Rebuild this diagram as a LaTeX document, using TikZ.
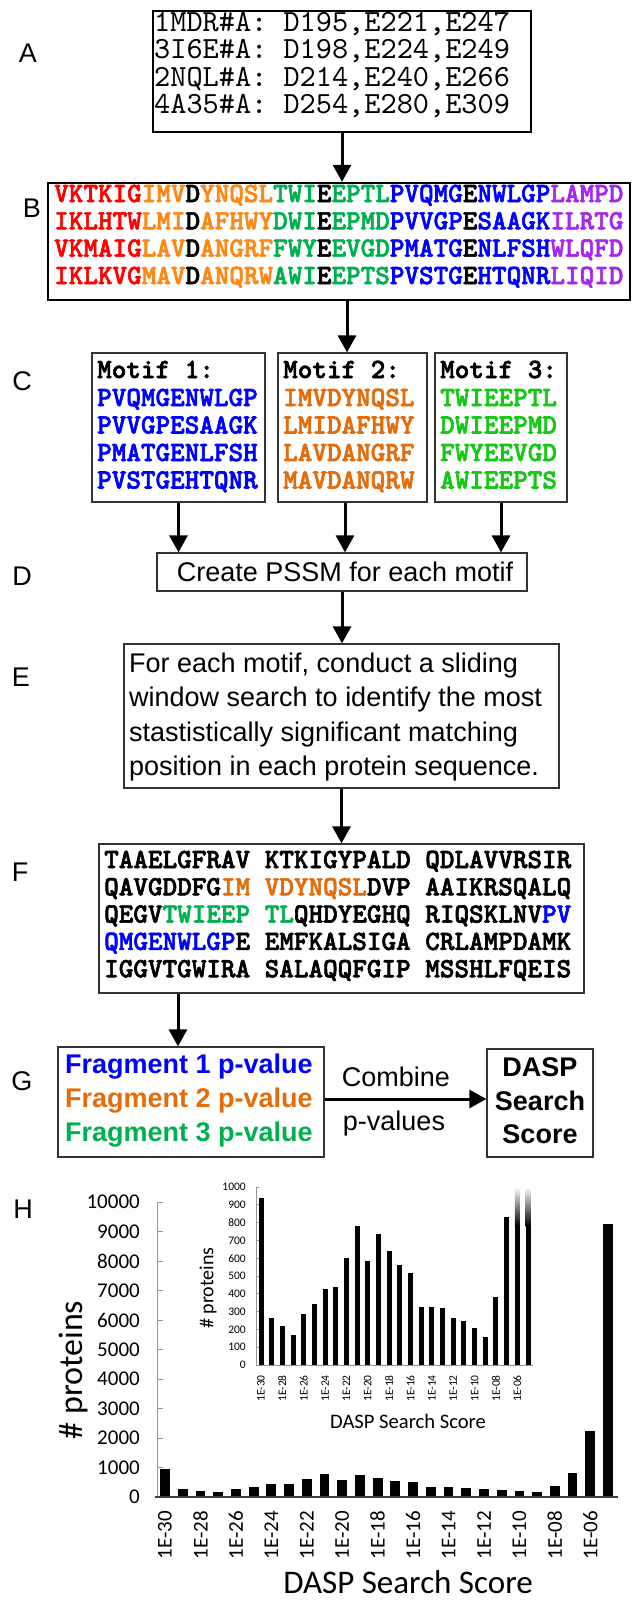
\documentclass[tikz,border=0pt]{standalone}
\usepackage{fontspec}
\setmainfont{Liberation Sans}
\newfontfamily\ctt{lmmono10-regular}[Extension=.otf]
\newfontfamily\cttb{lmmonolt10-bold}[Extension=.otf,FakeBold=2.2]
\newfontfamily\cali{Carlito}
\usetikzlibrary{arrows.meta,calc}

\definecolor{sred}{RGB}{255,0,0}
\definecolor{sorange}{RGB}{255,135,20}
\definecolor{sgreen}{RGB}{0,176,80}
\definecolor{sblue}{RGB}{0,0,255}
\definecolor{spurple}{RGB}{165,40,240}
\definecolor{dorange}{RGB}{228,108,10}
\definecolor{lgreen}{RGB}{20,200,20}
\definecolor{axisgray}{RGB}{150,150,150}

\newcommand\sqred[1]{\textcolor{sred}{#1}}
\newcommand\sqorg[1]{\textcolor{sorange}{#1}}
\newcommand\sqgrn[1]{\textcolor{sgreen}{#1}}
\newcommand\sqblu[1]{\textcolor{sblue}{#1}}
\newcommand\sqpur[1]{\textcolor{spurple}{#1}}
\newcommand\sqdor[1]{\textcolor{dorange}{#1}}

\begin{document}
\begin{tikzpicture}[x=1pt,y=-1pt,
  flowarrow/.style={line width=3pt,-{Triangle[length=17pt,width=18pt]}},
  thickbox/.style={draw=black,line width=2.4pt,inner sep=0pt},
  thinbox/.style={draw=black!80,line width=1.3pt,inner sep=0pt},
  panel/.style={font=\fontsize{27pt}{27pt}\selectfont,inner sep=0pt},
  seqA/.style={font=\ctt\fontsize{30.8pt}{30.8pt}\selectfont,anchor=base west,inner sep=0pt},
  seq/.style={font=\cttb\fontsize{27.8pt}{27.8pt}\selectfont,anchor=base west,inner sep=0pt},
  plain/.style={font=\fontsize{27pt}{27pt}\selectfont,inner sep=0pt},
  bold/.style={font=\bfseries\fontsize{27pt}{27pt}\selectfont,inner sep=0pt},
  tickmain/.style={font=\cali\fontsize{21pt}{21pt}\selectfont,inner sep=0pt},
  tickinset/.style={font=\cali\fontsize{11.5pt}{11.5pt}\selectfont,inner sep=0pt},
  axline/.style={draw=axisgray,line width=1pt}]

\fill[white] (0,0) rectangle (633,1603);
\useasboundingbox (0,0) rectangle (633,1603);

% panel letters
\node[panel] (la) at (28,53) {A};
\node[panel] (lb) at (32,208) {B};
\node[panel] (lc) at (22,381) {C};
\node[panel] (ld) at (22,576) {D};
\node[panel] (le) at (21,677) {E};
\node[panel] (lf) at (20,872) {F};
\node[panel] (lg) at (22,1081) {G};
\node[panel] (lh) at (23,1209) {H};

% A: active-site residues
\node[thickbox,minimum width=378pt,minimum height=121pt] (a) at (342,71.5) {};
\node[seqA] (a1) at (154,31.5) {1MDR\#A: D195,E221,E247};
\node[seqA] (a2) at (154,58.8) {3I6E\#A: D198,E224,E249};
\node[seqA] (a3) at (154,86.1) {2NQL\#A: D214,E240,E266};
\node[seqA] (a4) at (154,113.4) {4A35\#A: D254,E280,E309};

% B: aligned sequence windows
\node[thickbox,minimum width=582pt,minimum height=117pt] (b) at (339,241.5) {};
\node[seq] (b1) at (54,202) {\sqred{VKTKIG}\sqorg{IMV}D\sqorg{YNQSL}\sqgrn{TWI}E\sqgrn{EPTL}\sqblu{PVQMG}E\sqblu{NWLGP}\sqpur{LAMPD}};
\node[seq] (b2) at (54,229.3) {\sqred{IKLHTW}\sqorg{LMI}D\sqorg{AFHWY}\sqgrn{DWI}E\sqgrn{EPMD}\sqblu{PVVGP}E\sqblu{SAAGK}\sqpur{ILRTG}};
\node[seq] (b3) at (54,256.6) {\sqred{VKMAIG}\sqorg{LAV}D\sqorg{ANGRF}\sqgrn{FWY}E\sqgrn{EVGD}\sqblu{PMATG}E\sqblu{NLFSH}\sqpur{WLQFD}};
\node[seq] (b4) at (54,284) {\sqred{IKLKVG}\sqorg{MAV}D\sqorg{ANQRW}\sqgrn{AWI}E\sqgrn{EPTS}\sqblu{PVSTG}E\sqblu{HTQNR}\sqpur{LIQID}};

% C: motifs
\node[thinbox,minimum width=173pt,minimum height=149pt] (c1) at (178.5,427.5) {};
\node[thinbox,minimum width=149pt,minimum height=149pt] (c2) at (352.5,427.5) {};
\node[thinbox,minimum width=132pt,minimum height=149pt] (c3) at (501,427.5) {};
\node[seq] (m1h) at (97,378) {Motif 1:};
\node[seq,text=sblue] (m1a) at (97,406) {PVQMGENWLGP};
\node[seq,text=sblue] (m1b) at (97,433.5) {PVVGPESAAGK};
\node[seq,text=sblue] (m1c) at (97,461) {PMATGENLFSH};
\node[seq,text=sblue] (m1d) at (97,488.5) {PVSTGEHTQNR};
\node[seq] (m2h) at (283,378) {Motif 2:};
\node[seq,text=dorange] (m2a) at (283,406) {IMVDYNQSL};
\node[seq,text=dorange] (m2b) at (283,433.5) {LMIDAFHWY};
\node[seq,text=dorange] (m2c) at (283,461) {LAVDANGRF};
\node[seq,text=dorange] (m2d) at (283,488.5) {MAVDANQRW};
\node[seq] (m3h) at (440,378) {Motif 3:};
\node[seq,text=lgreen] (m3a) at (440,406) {TWIEEPTL};
\node[seq,text=lgreen] (m3b) at (440,433.5) {DWIEEPMD};
\node[seq,text=lgreen] (m3c) at (440,461) {FWYEEVGD};
\node[seq,text=lgreen] (m3d) at (440,488.5) {AWIEEPTS};

% D: PSSM
\node[thinbox,minimum width=370pt,minimum height=38pt] (d) at (342,572) {};
\node[plain,anchor=base] (dt) at (345,581) {Create PSSM for each motif};

% E: sliding window search
\node[thinbox,minimum width=435pt,minimum height=144pt] (e) at (341.5,716) {};
\node[plain,anchor=base west] (e1) at (129,672) {For each motif, conduct a sliding};
\node[plain,anchor=base west] (e2) at (129,706.5) {window search to identify the most};
\node[plain,anchor=base west] (e3) at (129,741) {stastistically significant matching};
\node[plain,anchor=base west] (e4) at (129,775.5) {position in each protein sequence.};

% F: query protein with best-matching windows
\node[thinbox,minimum width=485pt,minimum height=149pt] (f) at (341.5,918.5) {};
\node[seq] (f1) at (104,868) {TAAELGFRAV KTKIGYPALD QDLAVVRSIR};
\node[seq] (f2) at (104,895.3) {QAVGDDFG\sqdor{IM} \sqdor{VDYNQSL}DVP AAIKRSQALQ};
\node[seq] (f3) at (104,922.6) {QEGV\sqgrn{TWIEEP} \sqgrn{TL}QHDYEGHQ RIQSKLNV\sqblu{PV}};
\node[seq] (f4) at (104,949.9) {\sqblu{QMGENWLGP}E EMFKALSIGA CRLAMPDAMK};
\node[seq] (f5) at (104,977.2) {IGGVTGWIRA SALAQQFGIP MSSHLFQEIS};

% G: p-values and combined score
\node[thinbox,minimum width=266pt,minimum height=110pt] (g) at (191,1102) {};
\node[bold,anchor=base west,text=sblue] (g1) at (65,1073.5) {Fragment 1 p-value};
\node[bold,anchor=base west,text=dorange] (g2) at (65,1107.5) {Fragment 2 p-value};
\node[bold,anchor=base west,text=sgreen] (g3) at (65,1141.5) {Fragment 3 p-value};
\node[thinbox,minimum width=106pt,minimum height=108pt] (s) at (540,1103) {};
\node[bold,anchor=base] (s1) at (540,1076) {DASP};
\node[bold,anchor=base] (s2) at (540,1110) {Search};
\node[bold,anchor=base] (s3) at (540,1143.5) {Score};
\node[plain,anchor=base] (cb1) at (396,1086) {Combine};
\node[plain,anchor=base] (cb2) at (394,1130) {p-values};

% flow arrows
\coordinate (bcx) at (347,0);
\coordinate (fgx) at (178,0);
\coordinate (gsy) at (0,1099);
\draw[flowarrow] (a.south) -- (a.south |- b.north);
\draw[flowarrow] (b.south -| bcx) -- (c2.north -| bcx);
\draw[flowarrow] (c1.south) -- (c1.south |- d.north);
\draw[flowarrow] (c2.south -| dt) -- (dt |- d.north);
\draw[flowarrow] (c3.south) -- (c3.south |- d.north);
\draw[flowarrow] (d.south) -- (d.south |- e.north);
\draw[flowarrow] (e.south) -- (e.south |- f.north);
\draw[flowarrow] (f.south -| fgx) -- (g.north -| fgx);
\draw[flowarrow] (g.east |- gsy) -- (s.west |- gsy);

% H: histogram of DASP search scores
\draw[axline] (157,1202) -- (157,1497);
\foreach \k/\t in {0/0,1/1000,2/2000,3/3000,4/4000,5/5000,6/6000,7/7000,8/8000,9/9000,10/10000}{
  \draw[axline] (157,{1497-\k*29.5}) -- (163,{1497-\k*29.5});
  \node[tickmain,anchor=east] at (140,{1497-\k*29.5}) {\t};
}
\foreach \v [count=\i from 0] in {940,265,220,168,288,345,425,438,600,780,585,735,638,560,515,325,328,320,265,245,210,160,383,830,2250,9250}{
  \fill ({165+\i*17.72-4.9},1497) rectangle ({165+\i*17.72+4.9},{1497-\v*0.0295});
}
\draw[black!75,line width=1.4pt] (155,1497) -- (618,1497);
\foreach \t [count=\i from 0] in {1E-30,1E-28,1E-26,1E-24,1E-22,1E-20,1E-18,1E-16,1E-14,1E-12,1E-10,1E-08,1E-06}{
  \node[tickmain,rotate=90,anchor=east] at ({165+2*\i*17.72},1511) {\t};
}
\node[font=\cali\fontsize{34pt}{34pt}\selectfont,inner sep=0pt,rotate=90] (ylab) at (74,1370) {\# proteins};
\node[font=\cali\fontsize{33pt}{33pt}\selectfont,inner sep=0pt,anchor=base] (xlab) at (408,1593) {DASP Search Score};

% inset: zoom on the 0-1000 range
\draw[axline,line width=0.8pt] (256,1187) -- (256,1365);
\foreach \k/\t in {0/0,1/100,2/200,3/300,4/400,5/500,6/600,7/700,8/800,9/900,10/1000}{
  \draw[axline,line width=0.8pt] (256,{1365-\k*17.8}) -- (259,{1365-\k*17.8});
  \node[tickinset,anchor=east] at (246,{1365-\k*17.8}) {\t};
}
\foreach \v [count=\i from 0] in {940,265,220,168,288,345,425,438,600,780,585,735,638,560,515,325,328,320,265,245,210,160,383,830}{
  \fill ({261+\i*10.68-2.5},1365) rectangle ({261+\i*10.68+2.5},{1365-\v*0.178});
}
\foreach \i in {24,25}{
  \fill ({261+\i*10.68-2.5},1365) rectangle ({261+\i*10.68+2.5},1226);
  \shade[top color=white,bottom color=black] ({261+\i*10.68-2.5},1187) rectangle ({261+\i*10.68+2.5},1226);
}
\draw[axline,line width=0.8pt] (256,1365) -- (533,1365);
\foreach \t [count=\i from 0] in {1E-30,1E-28,1E-26,1E-24,1E-22,1E-20,1E-18,1E-16,1E-14,1E-12,1E-10,1E-08,1E-06}{
  \node[tickinset,rotate=90,anchor=east] at ({261+2*\i*10.68},1375) {\t};
}
\node[font=\cali\fontsize{20pt}{20pt}\selectfont,inner sep=0pt,rotate=90] (iylab) at (208,1288) {\# proteins};
\node[font=\cali\fontsize{20.6pt}{20.6pt}\selectfont,inner sep=0pt] (ixlab) at (408,1421) {DASP Search Score};

\end{tikzpicture}
\end{document}
